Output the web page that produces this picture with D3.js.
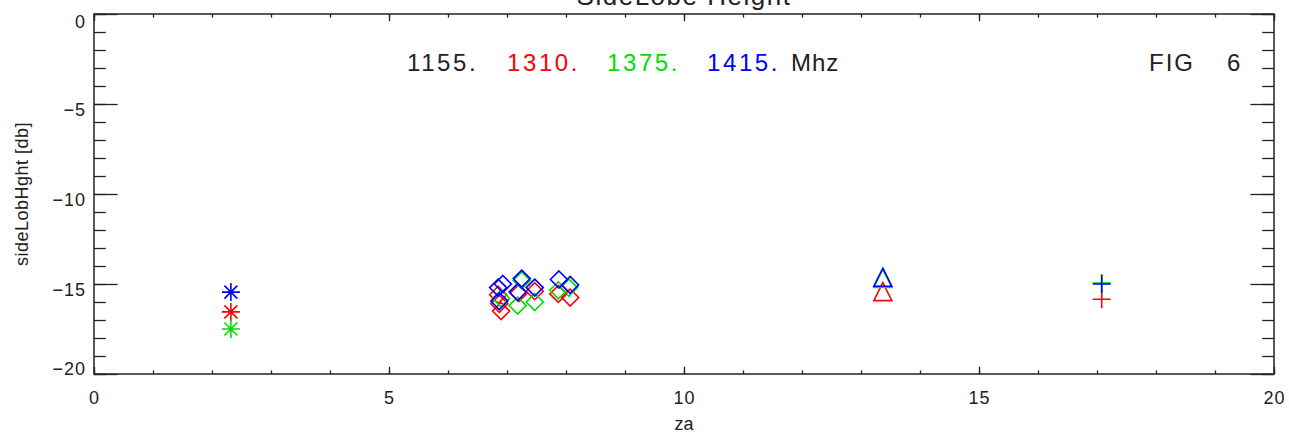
<!DOCTYPE html>
<html>
<head>
<meta charset="utf-8">
<script src="https://cdn.jsdelivr.net/npm/d3@7"></script>
<style>
  body { margin: 0; background: #fff; }
  text { font-family: "Liberation Sans", Arial, sans-serif; }
</style>
</head>
<body>
<div id="chart"></div>
<script>
var width = 1289;
var height = 432;

// freq legend
var freqs = ["1155.", "1310.", "1375.", "1415."];
var freqColors = ["#222222", "#ff0000", "#00dd00", "#0000ff"];

// za positions / side lobe heights, one array per freq+source
var starZa = [2.32, 2.32, 2.32];
var starVal = [-16.55, -17.5, -15.45];
var starCol = ["#ff0000", "#00dd00", "#0000ff"];

var redDiaZa = [6.85, 6.87, 6.9, 7.2, 7.47, 7.87, 8.07];
var redDiaVal = [-15.6, -16.1, -16.5, -15.5, -15.4, -15.55, -15.75];
var greenDiaZa = [6.9, 7.18, 7.25, 7.47, 7.87, 8.05];
var greenDiaVal = [-15.8, -16.2, -14.8, -16.0, -15.35, -15.2];
var blueDiaZa = [6.85, 6.93, 6.87, 7.18, 7.25, 7.47, 7.88, 8.07];
var blueDiaVal = [-15.2, -15.0, -15.95, -15.45, -14.7, -15.2, -14.75, -15.05];

var triZa = [13.37, 13.37, 13.37];
var triVal = [-15.45, -14.72, -14.65];
var triCol = ["#ff0000", "#00dd00", "#0000ff"];

var crossZa = [17.08, 17.08, 17.08];
var crossVal = [-15.85, -14.95, -15.0];
var crossCol = ["#ff0000", "#00dd00", "#0000ff"];

var xMajor = [0, 5, 10, 15, 20];
var yMajor = [0, -5, -10, -15, -20];

var pL = 94, pR = 1274, pT = 14, pB = 374;

var svg = d3.select("#chart").append("svg").attr("width", width).attr("height", height);

var x = d3.scaleLinear().domain([0, 20]).range([pL, pR]);
var y = d3.scaleLinear().domain([-20, 0]).range([pB, pT]);

var axisColor = "#222";

// minor ticks
var xMinor = d3.range(0, 21, 1);
var yMinor = d3.range(-20, 1, 1);

function drawAxis(gen, tx, ty) {
    var g = svg.append("g").attr("transform", "translate(" + tx + "," + ty + ")").call(gen);
    g.select(".domain").remove();
    g.selectAll("line").attr("stroke", axisColor).attr("stroke-width", 1.3);
    return g;
}

drawAxis(d3.axisBottom(x).tickValues(xMinor).tickSize(-3.6).tickFormat(""), 0, pB);
drawAxis(d3.axisTop(x).tickValues(xMinor).tickSize(-3.6).tickFormat(""), 0, pT);
drawAxis(d3.axisLeft(y).tickValues(yMinor).tickSize(-11.8).tickFormat(""), pL, 0);
drawAxis(d3.axisRight(y).tickValues(yMinor).tickSize(-11.8).tickFormat(""), pR, 0);

var xb = drawAxis(d3.axisBottom(x).tickValues(xMajor).tickSize(-7.2).tickPadding(17).tickFormat(d3.format("d")), 0, pB);
xb.selectAll("text").style("font-size", "18px").attr("fill", "#222").attr("letter-spacing", 1);
drawAxis(d3.axisTop(x).tickValues(xMajor).tickSize(-7.2).tickFormat(""), 0, pT);

var yl = drawAxis(d3.axisLeft(y).tickValues(yMajor).tickSize(-23.6).tickPadding(8)
    .tickFormat(function(d) { return d === 0 ? "0" : "\u2212" + Math.abs(d); }), pL, 0);
yl.selectAll("text").style("font-size", "18px").attr("fill", "#222").attr("letter-spacing", 1)
    .attr("dy", function(d) { return d === -20 ? "0.05em" : (d === 0 ? "0.75em" : "0.62em"); });
drawAxis(d3.axisRight(y).tickValues(yMajor).tickSize(-23.6).tickFormat(""), pR, 0);

svg.append("rect")
    .attr("x", pL).attr("y", pT)
    .attr("width", pR - pL).attr("height", pB - pT)
    .attr("fill", "none").attr("stroke", axisColor).attr("stroke-width", 1.5);

// titles
svg.append("text").attr("x", (pL + pR) / 2).attr("y", 5)
    .attr("text-anchor", "middle").style("font-size", "26px").attr("fill", "#222")
    .attr("letter-spacing", 1.5)
    .text("SideLobe Height");

svg.append("text").attr("x", (pL + pR) / 2).attr("y", 430)
    .attr("text-anchor", "middle").style("font-size", "18px").attr("fill", "#222")
    .text("za");

svg.append("text").attr("transform", "translate(28," + (pT + pB) / 2 + ") rotate(-90)")
    .attr("text-anchor", "middle").style("font-size", "18px").attr("fill", "#222")
    .attr("letter-spacing", 0.5)
    .text("sideLobHght [db]");

// legend
freqs.forEach(function(f, i) {
    svg.append("text").attr("x", 407 + i * 100).attr("y", 71)
        .style("font-size", "24px").attr("fill", freqColors[i]).attr("letter-spacing", 2.6)
        .text(f);
});
svg.append("text").attr("x", 791).attr("y", 71)
    .style("font-size", "24px").attr("fill", "#222").attr("letter-spacing", 1)
    .text("Mhz");
svg.append("text").attr("x", 1149).attr("y", 71)
    .style("font-size", "24px").attr("fill", "#222").attr("letter-spacing", 2)
    .text("FIG");
svg.append("text").attr("x", 1227).attr("y", 71)
    .style("font-size", "24px").attr("fill", "#222")
    .text("6");

// marker paths
var s = 9;
function starPath(cx, cy) {
    var d = s * 0.72;
    return "M" + (cx - s) + "," + cy + "H" + (cx + s) +
        "M" + cx + "," + (cy - s) + "V" + (cy + s) +
        "M" + (cx - d) + "," + (cy - d) + "L" + (cx + d) + "," + (cy + d) +
        "M" + (cx - d) + "," + (cy + d) + "L" + (cx + d) + "," + (cy - d);
}
function diamondPath(cx, cy) {
    var h = 8.5;
    return "M" + cx + "," + (cy - h) + "L" + (cx + h) + "," + cy + "L" + cx + "," + (cy + h) +
        "L" + (cx - h) + "," + cy + "Z";
}
function triPath(cx, cy) {
    return "M" + cx + "," + (cy - 9.5) + "L" + (cx + 9) + "," + (cy + 8.5) + "L" + (cx - 9) + "," + (cy + 8.5) + "Z";
}
function crossPath(cx, cy) {
    return "M" + (cx - s) + "," + cy + "H" + (cx + s) + "M" + cx + "," + (cy - s) + "V" + (cy + s);
}

function plotSet(zas, vals, cols, pathFn) {
    zas.forEach(function(z, i) {
        svg.append("path")
            .attr("d", pathFn(x(z), y(vals[i])))
            .attr("fill", "none")
            .attr("stroke", Array.isArray(cols) ? cols[i] : cols)
            .attr("stroke-width", 1.6);
    });
}

plotSet(starZa, starVal, starCol, starPath);
plotSet(redDiaZa, redDiaVal, "#ff0000", diamondPath);
plotSet(greenDiaZa, greenDiaVal, "#00dd00", diamondPath);
plotSet(blueDiaZa, blueDiaVal, "#0000ff", diamondPath);
plotSet(triZa, triVal, triCol, triPath);
plotSet(crossZa, crossVal, crossCol, crossPath);
</script>
</body>
</html>
